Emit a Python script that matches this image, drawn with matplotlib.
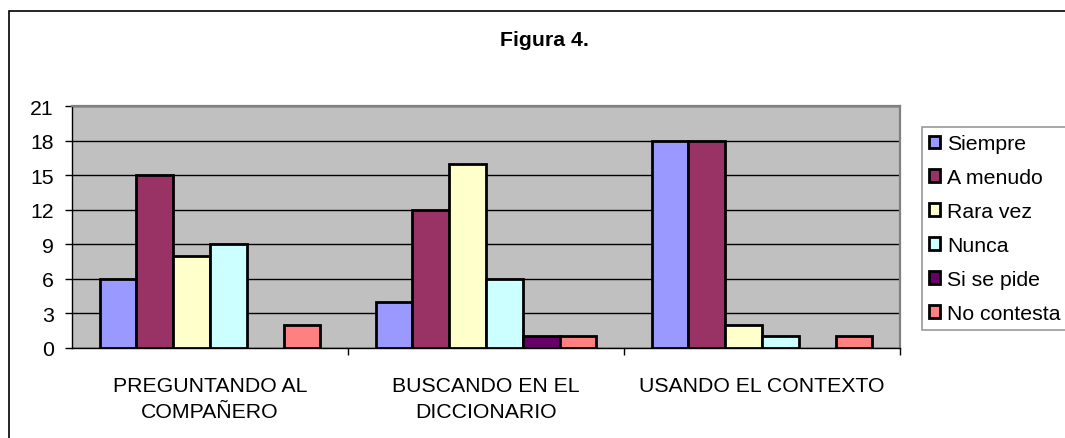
import numpy as np
import matplotlib
matplotlib.use("Agg")
from matplotlib import pyplot as plt
from matplotlib.patches import Rectangle

# data
categories = ["PREGUNTANDO AL\nCOMPAÑERO", "BUSCANDO EN EL\nDICCIONARIO", "USANDO EL CONTEXTO"]
series_names = ["Siempre", "A menudo", "Rara vez", "Nunca", "Si se pide", "No contesta"]
siempre = [6, 4, 18]
a_menudo = [15, 12, 18]
rara_vez = [8, 16, 2]
nunca = [9, 6, 1]
si_se_pide = [0, 1, 0]
no_contesta = [2, 1, 1]
y_ticks = [0, 3, 6, 9, 12, 15, 18, 21]

all_series = [siempre, a_menudo, rara_vez, nunca, si_se_pide, no_contesta]
colors = ["#9999FF", "#993366", "#FFFFCC", "#CCFFFF", "#660066", "#FF8080"]

plt.rcParams['font.family'] = ['Liberation Sans', 'DejaVu Sans']
fs = 15.3

W, H = 1065, 439
fig = plt.figure(figsize=(W / 100, H / 100), dpi=100)

# outer chart border (only left and top visible)
fig.patches.append(Rectangle((9 / W, -0.2), 2, 1.2 - 12 / H, transform=fig.transFigure,
                             fill=False, edgecolor="black", linewidth=1.2))

ax = fig.add_axes([72 / W, 1 - 349 / H, (900 - 72) / W, (349 - 107) / H])
ax.set_facecolor("#C0C0C0")

x = np.arange(len(categories))
w = 1 / 7.5
for j, (name, vals) in enumerate(zip(series_names, all_series)):
    bars = ax.bar(x + (j - 2.5) * w, vals, width=w, color=colors[j], edgecolor="black",
                  linewidth=2.0, label=name, zorder=3)
    for b, v in zip(bars, vals):
        if v == 0:
            b.set_linewidth(0)

ax.set_xlim(-0.5, 2.5)
ax.set_ylim(0, 21)
ax.set_yticks(y_ticks)
ax.set_yticklabels([str(t) for t in y_ticks], fontsize=fs)
ax.yaxis.grid(True, color="black", linewidth=1.0, zorder=1)
ax.set_axisbelow(True)

ax.set_xticks(x)
ax.set_xticklabels(categories, fontsize=fs, linespacing=1.5, va="top")
ax.tick_params(axis="x", which="major", length=0, pad=20)
ax.set_xticks([0.5, 1.5, 2.5], minor=True)
ax.tick_params(axis="x", which="minor", length=5, width=1, direction="out")
ax.tick_params(axis="y", length=5, width=1, pad=8, direction="out")

for s in ["top", "right"]:
    ax.spines[s].set_color("#808080")
    ax.spines[s].set_linewidth(1.6)
for s in ["left", "bottom"]:
    ax.spines[s].set_color("black")
    ax.spines[s].set_linewidth(1.0)

fig.text(544 / W, 1 - 40 / H, "Figura 4.", ha="center", va="center",
         fontsize=fs, fontweight="bold")

leg = fig.legend(loc="upper left", bbox_to_anchor=(922 / W, 1 - 128 / H),
                 fontsize=fs, frameon=True, fancybox=False, borderaxespad=0,
                 handlelength=0.52, handleheight=0.55, handletextpad=0.3,
                 labelspacing=0.7, borderpad=0.35)
leg.get_frame().set_edgecolor("#808080")
leg.get_frame().set_linewidth(1.2)
for p in leg.get_patches():
    p.set_linewidth(2.0)

fig.savefig("out.png", dpi=100)
